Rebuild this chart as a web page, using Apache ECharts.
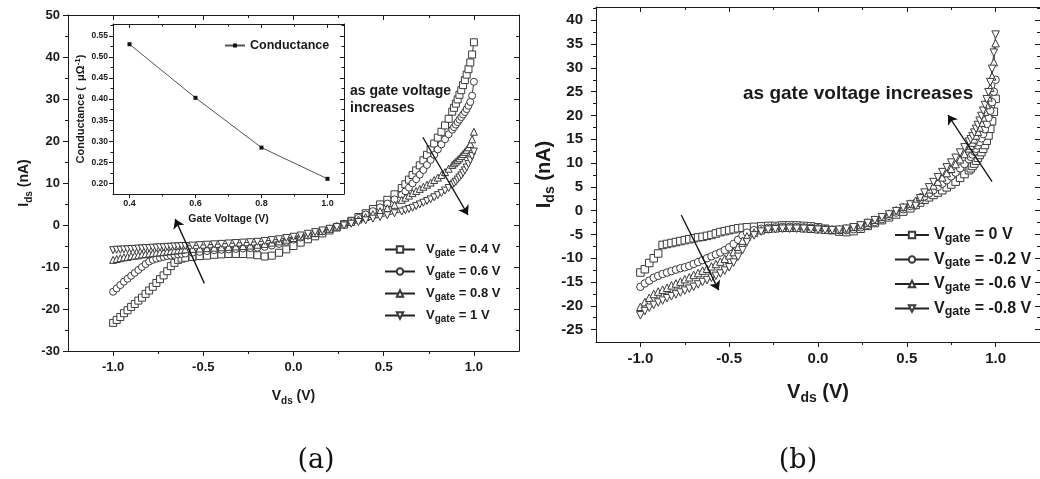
<!DOCTYPE html>
<html>
<head>
<meta charset="utf-8">
<script src="https://cdn.jsdelivr.net/npm/echarts@6/dist/echarts.min.js"></script>
<style>
  html, body { margin: 0; padding: 0; background: #fff; }
  #chart { width: 1040px; height: 479px; }
</style>
</head>
<body>
<div id="chart"></div>
<script>
// ---------- Panel (a): Ids–Vds sweeps for positive gate bias ----------
const vdsA = [-1.00,-0.98,-0.96,-0.94,-0.92,-0.90,-0.88,-0.86,-0.84,-0.82,-0.80,-0.78,-0.76,-0.74,-0.72,-0.70,-0.68,-0.66,-0.64,-0.62,-0.60,
  -0.56,-0.52,-0.48,-0.44,-0.40,-0.36,-0.32,-0.28,-0.24,-0.20,-0.16,-0.12,-0.08,-0.04,0.00,0.04,0.08,0.12,0.16,0.20,0.24,0.28,0.32,0.36,0.40,0.44,0.48,0.52,0.56,
  0.60,0.62,0.64,0.66,0.68,0.70,0.72,0.74,0.76,0.78,0.80,0.82,0.84,0.86,0.88,
  0.89,0.90,0.91,0.92,0.93,0.94,0.95,0.96,0.97,0.98,0.99,1.00];
const idsGate04 = [-23.3,-22.6,-21.9,-21.0,-20.3,-19.5,-18.8,-18.0,-17.3,-16.4,-15.6,-14.7,-13.8,-12.9,-12.0,-11.0,-9.8,-9.0,-8.3,-8.0,-7.8,
  -7.6,-7.4,-7.3,-7.1,-7.0,-6.9,-6.9,-6.9,-7.0,-7.2,-7.5,-7.3,-6.6,-5.8,-5.0,-4.2,-3.4,-2.7,-2.0,-1.3,-0.6,0.2,1.0,1.9,2.8,3.8,4.9,6.0,7.3,
  8.8,9.7,10.8,11.9,13.0,14.2,15.4,16.7,18.0,19.4,20.8,22.2,23.7,25.3,27.0,
  27.9,28.9,29.9,31.0,32.1,33.3,34.5,35.8,37.1,38.7,40.6,43.5];
const idsGate06 = [-15.9,-15.1,-14.3,-13.5,-12.8,-12.1,-11.4,-10.7,-10.0,-9.3,-8.7,-8.3,-8.0,-7.8,-7.6,-7.4,-7.3,-7.1,-7.0,-6.9,-6.8,
  -6.6,-6.4,-6.2,-6.0,-5.9,-5.8,-5.7,-5.6,-5.5,-5.4,-5.2,-4.9,-4.5,-4.0,-3.5,-3.0,-2.5,-2.0,-1.5,-0.9,-0.3,0.3,1.0,1.7,2.5,3.3,4.2,5.1,6.1,
  7.2,8.0,8.9,9.9,10.9,12.0,13.1,14.3,15.5,16.7,18.0,19.2,20.4,21.6,22.7,
  23.3,23.9,24.5,25.1,25.7,26.3,26.9,27.6,28.4,29.3,30.8,34.1];
const idsGate08 = [-8.3,-8.1,-7.9,-7.7,-7.6,-7.4,-7.3,-7.2,-7.0,-6.9,-6.8,-6.7,-6.6,-6.5,-6.4,-6.3,-6.2,-6.1,-6.0,-5.9,-5.8,
  -5.7,-5.6,-5.5,-5.4,-5.3,-5.2,-5.1,-5.0,-4.9,-4.7,-4.5,-4.2,-3.9,-3.5,-3.1,-2.7,-2.3,-1.9,-1.4,-0.9,-0.4,0.1,0.7,1.3,1.9,2.6,3.3,4.0,4.8,
  6.0,6.5,7.0,7.6,8.1,8.6,9.1,9.6,10.1,10.7,11.3,11.9,12.6,13.4,14.3,
  14.7,15.1,15.5,15.9,16.4,16.9,17.4,17.9,18.5,19.3,20.4,22.2];
const idsGate10 = [-6.0,-5.9,-5.9,-5.8,-5.8,-5.7,-5.7,-5.6,-5.6,-5.5,-5.5,-5.4,-5.4,-5.3,-5.3,-5.2,-5.2,-5.1,-5.1,-5.0,-5.0,
  -4.9,-4.8,-4.7,-4.6,-4.5,-4.4,-4.3,-4.2,-4.1,-4.0,-3.8,-3.6,-3.4,-3.1,-2.8,-2.5,-2.1,-1.7,-1.3,-0.9,-0.5,-0.1,0.3,0.7,1.1,1.5,1.9,2.3,2.8,
  3.2,3.5,3.8,4.1,4.5,4.9,5.3,5.7,6.1,6.6,7.1,7.6,8.2,8.8,9.5,
  9.9,10.3,10.8,11.3,11.8,12.4,13.0,13.7,14.5,15.4,16.4,17.5];
const namesA = ['Vgate = 0.4 V', 'Vgate = 0.6 V', 'Vgate = 0.8 V', 'Vgate = 1 V'];

// ---------- Inset: conductance versus gate voltage ----------
const gateVoltage = [0.4, 0.6, 0.8, 1.0];
const conductance = [0.530, 0.403, 0.285, 0.211];

// ---------- Panel (b): Ids–Vds sweeps for negative gate bias ----------
const vdsB = [-1.000,-0.975,-0.950,-0.925,-0.900,-0.875,-0.850,-0.825,-0.800,-0.775,-0.750,-0.725,-0.700,-0.675,-0.650,-0.625,-0.600,-0.575,-0.550,-0.525,-0.500,-0.475,-0.450,-0.425,-0.400,
  -0.36,-0.32,-0.28,-0.24,-0.20,-0.16,-0.12,-0.08,-0.04,0.00,0.04,0.08,0.12,0.16,0.20,0.24,0.28,0.32,0.36,0.40,0.44,0.48,0.52,
  0.550,0.575,0.600,0.625,0.650,0.675,0.700,0.725,0.750,0.775,0.800,0.825,0.850,
  0.86,0.87,0.88,0.89,0.90,0.91,0.92,0.93,0.94,0.95,0.96,0.97,0.98,0.99,1.00];
const idsGate0 = [-13.0,-12.3,-11.0,-10.0,-9.0,-7.2,-7.0,-6.8,-6.6,-6.4,-6.2,-6.0,-5.8,-5.6,-5.5,-5.3,-5.1,-4.8,-4.5,-4.3,-4.1,-3.9,-3.7,-3.6,-3.5,
  -3.4,-3.3,-3.2,-3.2,-3.1,-3.1,-3.1,-3.2,-3.3,-3.5,-3.8,-4.1,-4.4,-4.5,-4.3,-3.8,-3.2,-2.6,-2.0,-1.4,-0.8,-0.2,0.5,
  1.2,1.7,2.3,2.8,3.3,3.8,4.3,4.9,5.5,6.1,6.9,7.7,8.5,
  8.9,9.4,9.9,10.5,11.1,11.7,12.3,13.0,13.8,14.7,15.8,17.2,18.8,20.8,23.5];
const idsGateM02 = [-16.0,-15.3,-14.7,-14.1,-13.7,-13.3,-13.0,-12.7,-12.4,-12.1,-11.9,-11.6,-11.2,-10.8,-10.4,-10.0,-9.6,-9.2,-8.8,-8.3,-7.7,-7.0,-6.1,-5.2,-4.6,
  -4.1,-3.8,-3.6,-3.5,-3.4,-3.4,-3.4,-3.5,-3.6,-3.7,-3.9,-4.0,-4.1,-4.1,-3.9,-3.5,-3.0,-2.4,-1.8,-1.1,-0.4,0.3,1.0,
  1.6,2.3,3.0,3.6,4.3,5.0,5.7,6.4,7.2,8.0,8.9,9.8,10.8,
  11.3,11.8,12.4,13.0,13.7,14.4,15.2,16.1,17.1,18.2,19.5,21.0,22.8,25.0,27.5];
const idsGateM06 = [-20.2,-19.2,-18.3,-17.5,-17.0,-16.6,-16.2,-15.7,-15.3,-14.9,-14.4,-14.0,-13.5,-13.1,-12.6,-12.2,-11.7,-11.2,-10.7,-10.1,-9.4,-8.7,-7.6,-6.3,-5.4,
  -4.6,-4.1,-3.8,-3.7,-3.6,-3.6,-3.6,-3.7,-3.8,-3.9,-4.0,-4.0,-3.9,-3.7,-3.4,-3.0,-2.5,-1.9,-1.3,-0.6,0.1,0.8,1.5,
  2.1,2.9,3.7,4.5,5.3,6.1,7.0,7.9,8.8,9.8,10.8,11.9,13.1,
  13.7,14.3,15.0,15.8,16.6,17.5,18.5,19.6,20.8,22.2,23.8,25.8,28.2,31.2,35.2];
const idsGateM08 = [-22.0,-21.1,-20.4,-19.8,-19.3,-18.9,-18.4,-18.0,-17.6,-17.2,-16.8,-16.4,-16.0,-15.5,-15.0,-14.6,-14.1,-13.7,-13.2,-12.6,-11.9,-10.9,-9.7,-8.3,-6.6,
  -5.2,-4.4,-4.0,-3.9,-3.8,-3.8,-3.8,-3.8,-3.9,-4.0,-4.1,-4.1,-4.0,-3.8,-3.5,-3.1,-2.6,-2.0,-1.4,-0.8,-0.1,0.6,1.3,
  1.0,2.6,3.8,4.9,6.0,7.0,8.1,9.1,10.1,11.1,12.2,13.3,14.5,
  15.0,15.6,16.4,17.2,18.0,18.9,19.9,21.0,22.2,23.4,24.9,27.0,29.8,33.2,37.0];
const namesB = ['Vgate = 0 V', 'Vgate = -0.2 V', 'Vgate = -0.6 V', 'Vgate = -0.8 V'];

// ---------- Tick positions ----------
const vdsTicks = [-1.0, -0.5, 0.0, 0.5, 1.0];
const vdsMinorTicks = [-0.75, -0.25, 0.25, 0.75];
const idsTicksA = [-30, -20, -10, 0, 10, 20, 30, 40, 50];
const idsMinorTicksA = [-25, -15, -5, 5, 15, 25, 35, 45];
const idsTicksB = [-25, -20, -15, -10, -5, 0, 5, 10, 15, 20, 25, 30, 35, 40];
const idsMinorTicksB = [-22.5, -17.5, -12.5, -7.5, -2.5, 2.5, 7.5, 12.5, 17.5, 22.5, 27.5, 32.5, 37.5, 42.5];
const gateTicks = [0.4, 0.6, 0.8, 1.0];
const gateMinorTicks = [0.5, 0.7, 0.9];
const condTicks = [0.20, 0.25, 0.30, 0.35, 0.40, 0.45, 0.50, 0.55];
const condMinorTicks = [0.225, 0.275, 0.325, 0.375, 0.425, 0.475, 0.525, 0.575];

const FONT = 'Liberation Sans';
const INK = '#1a1a1a';

function rich(main, sub, lh, subLh, subAlign) {
  return {
    b: { fontSize: main, fontWeight: 'bold', fontFamily: FONT, color: INK, lineHeight: lh, verticalAlign: 'middle' },
    s: { fontSize: sub, fontWeight: 'bold', fontFamily: FONT, color: INK, lineHeight: subLh, verticalAlign: subAlign || 'bottom' }
  };
}

// Builds the four frame axes of one dimension: labelled outer + mirrored inner on the main grid,
// short minor ticks on an overlaid grid of the same size.
function buildAxes(dim, gMain, gMinor, range, major, minor, cfg) {
  const sides = dim === 'x' ? ['bottom', 'top'] : ['left', 'right'];
  const base = (g, pos) => ({
    type: 'value', gridIndex: g, position: pos, min: range[0], max: range[1],
    splitLine: { show: false }, axisLabel: { show: false }, minorTick: { show: false }
  });
  const tick = (vals, len, inside) => ({ show: true, inside: inside, length: len, customValues: vals, lineStyle: { color: INK, width: 1 } });
  const line = { show: true, onZero: false, lineStyle: { color: INK, width: 1 } };
  const noLine = { show: false, onZero: false };
  const outer = Object.assign(base(gMain, sides[0]), {
    axisLine: line,
    axisTick: tick(major, cfg.tick, false),
    axisLabel: { show: true, customValues: major, margin: cfg.margin, formatter: cfg.fmt,
      fontSize: cfg.size, fontWeight: 'bold', fontFamily: FONT, color: INK }
  });
  if (cfg.name) {
    Object.assign(outer, { name: cfg.name, nameLocation: 'middle', nameGap: cfg.nameGap,
      nameTextStyle: { rich: cfg.rich } });
  }
  const inner = Object.assign(base(gMain, sides[1]), { axisLine: line, axisTick: tick(major, cfg.tick, true) });
  const outerMinor = Object.assign(base(gMinor, sides[0]), { axisLine: noLine, axisTick: tick(minor, cfg.minorTick, false) });
  const innerMinor = Object.assign(base(gMinor, sides[1]), { axisLine: noLine, axisTick: tick(minor, cfg.minorTick, true) });
  return [[outer, inner], [outerMinor, innerMinor]];
}

const fmt1 = v => v.toFixed(1);
const fmt0 = v => String(Math.round(v));
const fmt2 = v => v.toFixed(2);

const richA = rich(14, 10, 20, 10);
const richB = rich(20, 14, 26, 14);
const richIn = {
  b: { fontSize: 11, fontWeight: 'bold', fontFamily: FONT, color: INK, lineHeight: 14, verticalAlign: 'middle' },
  s: { fontSize: 8, fontWeight: 'bold', fontFamily: FONT, color: INK, lineHeight: 8, verticalAlign: 'top' }
};

// grids: 0/1 panel (a), 2/3 inset, 4/5 panel (b)
const grids = [
  { left: 68, top: 15, width: 451, height: 336 },
  { left: 68, top: 15, width: 451, height: 336 },
  { left: 113, top: 24, width: 231, height: 170, show: true, backgroundColor: '#fff', borderWidth: 0 },
  { left: 113, top: 24, width: 231, height: 170 },
  { left: 596, top: 7, width: 452, height: 335 },
  { left: 596, top: 7, width: 452, height: 335 }
];

const axA_x = buildAxes('x', 0, 1, [-1.25, 1.25], vdsTicks, vdsMinorTicks,
  { tick: 5, minorTick: 3, margin: 10, fmt: fmt1, size: 13, name: '{b|V}{s|ds}{b| (V)}', nameGap: 35, rich: richA });
const axA_y = buildAxes('y', 0, 1, [-30, 50], idsTicksA, idsMinorTicksA,
  { tick: 5, minorTick: 3, margin: 8, fmt: fmt0, size: 13, name: '{b|I}{s|ds}{b| (nA)}', nameGap: 34, rich: richA });
const axIn_x = buildAxes('x', 2, 3, [0.35, 1.05], gateTicks, gateMinorTicks,
  { tick: 4, minorTick: 2.5, margin: 5, fmt: fmt1, size: 9, name: '{b|Gate Voltage (V)}', nameGap: 18,
    rich: { b: { fontSize: 10.5, fontWeight: 'bold', fontFamily: FONT, color: INK, lineHeight: 14 } } });
const axIn_y = buildAxes('y', 2, 3, [0.175, 0.578], condTicks, condMinorTicks,
  { tick: 4, minorTick: 2.5, margin: 5, fmt: fmt2, size: 8.5, name: '{b|Conductance (  μΩ}{s|-1}{b|)}', nameGap: 25, rich: richIn });
const axB_x = buildAxes('x', 4, 5, [-1.25, 1.25], vdsTicks, vdsMinorTicks,
  { tick: 5, minorTick: 3, margin: 9, fmt: fmt1, size: 15, name: '{b|V}{s|ds}{b| (V)}', nameGap: 37, rich: richB });
const axB_y = buildAxes('y', 4, 5, [-27.6, 42.8], idsTicksB, idsMinorTicksB,
  { tick: 5, minorTick: 3, margin: 13, fmt: fmt0, size: 15, name: '{b|I}{s|ds}{b| (nA)}', nameGap: 38, rich: richB });

const xAxes = [].concat(axA_x[0], axA_x[1], axIn_x[0], axIn_x[1], axB_x[0], axB_x[1]);
const yAxes = [].concat(axA_y[0], axA_y[1], axIn_y[0], axIn_y[1], axB_y[0], axB_y[1]);

const markerShapes = [
  { symbol: 'rect', rotate: 0 },
  { symbol: 'circle', rotate: 0 },
  { symbol: 'triangle', rotate: 0 },
  { symbol: 'triangle', rotate: 180 }
];

function sweepSeries(name, xs, ys, shapeIdx, axisIdx, size) {
  const shape = markerShapes[shapeIdx];
  return {
    type: 'line', name: name, xAxisIndex: axisIdx, yAxisIndex: axisIdx,
    data: xs.map((x, i) => [x, ys[i]]),
    symbol: shape.symbol, symbolRotate: shape.rotate, symbolSize: size,
    showAllSymbol: true,
    lineStyle: { color: '#222', width: 0.9 },
    itemStyle: { color: '#ffffff', borderColor: '#3a3a3a', borderWidth: 1 },
    emphasis: { disabled: true }, silent: true, z: 3
  };
}

function arrows(pairs) {
  return {
    silent: true, symbol: ['none', 'arrow'], symbolSize: 9,
    lineStyle: { color: '#111', width: 1.3, type: 'solid' },
    label: { show: false }, emphasis: { disabled: true },
    data: pairs.map(p => [{ coord: p[0] }, { coord: p[1] }])
  };
}

const seriesA = [idsGate04, idsGate06, idsGate08, idsGate10].map((ys, k) => sweepSeries(namesA[k], vdsA, ys, k, 0, 7));
const seriesB = [idsGate0, idsGateM02, idsGateM06, idsGateM08].map((ys, k) => sweepSeries(namesB[k], vdsB, ys, k, 8, 7.5));

// direction-of-increasing-gate arrows, in axis units
seriesA[0].markLine = arrows([[[0.717, 20.9], [0.967, 2.4]], [[-0.494, -13.9], [-0.656, 1.4]]]);
seriesB[0].markLine = arrows([[[0.98, 6.1], [0.732, 20.1]], [[-0.77, -0.9], [-0.559, -16.7]]]);

const insetSeries = {
  type: 'line', name: 'Conductance', xAxisIndex: 4, yAxisIndex: 4,
  data: gateVoltage.map((g, i) => [g, conductance[i]]),
  symbol: 'rect', symbolSize: 4,
  lineStyle: { color: '#555', width: 1 },
  itemStyle: { color: '#111' },
  emphasis: { disabled: true }, silent: true, z: 3
};

function legendRich(main, sub, lh, subLh, pad) {
  return {
    v0: { fontSize: main, fontWeight: 'bold', fontFamily: FONT, color: INK, lineHeight: lh, verticalAlign: 'middle', padding: [0, 0, 0, pad] },
    v: { fontSize: main, fontWeight: 'bold', fontFamily: FONT, color: INK, lineHeight: lh, verticalAlign: 'middle' },
    s: { fontSize: sub, fontWeight: 'bold', fontFamily: FONT, color: INK, lineHeight: subLh, verticalAlign: 'bottom' }
  };
}
const gateLabel = n => '{v0|V}{s|gate}{v|' + n.slice(5) + '}';

const option = {
  animation: false,
  backgroundColor: '#fff',
  grid: grids,
  xAxis: xAxes,
  yAxis: yAxes,
  legend: [
    { data: namesA, orient: 'vertical', left: 379, top: 238, itemWidth: 30, itemHeight: 8, itemGap: 6.5,
      selectedMode: false, formatter: gateLabel, textStyle: { rich: legendRich(13, 10, 18, 9, 6) } },
    { data: namesB, orient: 'vertical', left: 889, top: 222, itemWidth: 34, itemHeight: 8, itemGap: 6.5,
      selectedMode: false, formatter: gateLabel, textStyle: { rich: legendRich(16, 12.5, 20, 12, 0) } },
    { data: ['Conductance'], left: 219, top: 34, itemWidth: 20, itemHeight: 5, selectedMode: false,
      textStyle: { fontSize: 12.5, fontWeight: 'bold', fontFamily: FONT, color: INK } }
  ],
  graphic: [
    { type: 'text', left: 350, top: 83, silent: true,
      style: { text: 'as gate voltage\nincreases', fontSize: 14, fontWeight: 'bold', fontFamily: FONT, fill: INK, lineHeight: 17 } },
    { type: 'text', left: 743, top: 84, silent: true,
      style: { text: 'as gate voltage increases', fontSize: 19, fontWeight: 'bold', fontFamily: FONT, fill: INK } },
    { type: 'text', x: 316, y: 461, silent: true,
      style: { text: '(a)', fontSize: 27, fontFamily: 'DejaVu Serif', fill: '#111', align: 'center', verticalAlign: 'middle' } },
    { type: 'text', x: 798, y: 461, silent: true,
      style: { text: '(b)', fontSize: 27, fontFamily: 'DejaVu Serif', fill: '#111', align: 'center', verticalAlign: 'middle' } }
  ],
  series: seriesA.concat([insetSeries], seriesB)
};

const chart = echarts.init(document.getElementById('chart'), null, { renderer: 'canvas' });
chart.setOption(option);
</script>
</body>
</html>
